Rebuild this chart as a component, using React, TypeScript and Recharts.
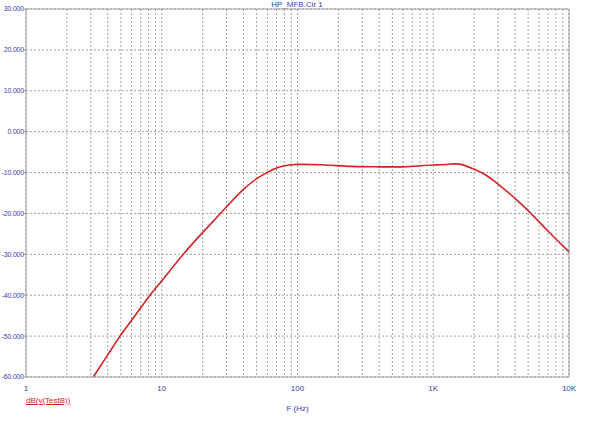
import React from 'react';
import { LineChart, Line, XAxis, YAxis, CartesianGrid, ReferenceLine, Legend } from 'recharts';

// frequency response (Hz / dB)
const freqs = [3.13, 4, 4.93, 6, 8.19, 10, 14.4, 20, 27, 33, 40, 50, 60, 70, 80, 90, 100, 150, 250, 400, 600, 800, 1000, 1300, 1600, 2000, 2350, 3000, 4000, 5000, 6000, 7000, 8500, 10000];
const gainDb = [-60, -54.6, -50, -46.1, -40, -36.5, -30, -24.7, -20, -16.9, -14.1, -11.5, -9.95, -8.9, -8.35, -8.1, -8.0, -8.1, -8.5, -8.6, -8.6, -8.35, -8.15, -7.95, -8.0, -9.2, -10.3, -12.8, -16.3, -19.3, -22.0, -24.3, -27.1, -29.4];

const decades = [1, 10, 100, 1000, 10000];
const decadeLabels = ['1', '10', '100', '1K', '10K'];
const yTicks = [-60, -50, -40, -30, -20, -10, 0, 10, 20, 30];

const TITLE = 'HP_MFB.Cir 1';
const SERIES_NAME = 'dB(v(TestB))';
const X_LABEL = 'F (Hz)';

const BLUE = '#3a3ab4';
const RED = '#d42222';
const GRAY = '#a0a0a0';
const FONT = '"Liberation Sans", Arial, sans-serif';

// all 1..9 x 10^n grid positions
const xTicks: number[] = [];
decades.slice(0, -1).forEach((d) => {
  for (let m = 1; m < 10; m++) xTicks.push(d * m);
});
xTicks.push(10000);

const data = freqs.map((f, i) => ({ f, db: gainDb[i] }));

const fmtX = (v: number) => {
  const i = decades.indexOf(v);
  return i >= 0 ? decadeLabels[i] : '';
};

const LegendLabel = () => (
  <div style={{ color: RED, fontSize: 8, fontFamily: FONT, textDecoration: 'underline', textAlign: 'left' }}>
    {SERIES_NAME}
  </div>
);

export default function App() {
  return (
    <div style={{ position: 'absolute', left: 0, top: 0, width: 600, height: 424, background: '#fff' }}>
      <div
        style={{
          position: 'absolute',
          top: 0,
          left: 0,
          width: 594,
          textAlign: 'center',
          color: BLUE,
          fontSize: 8,
          fontFamily: FONT,
          lineHeight: '9px',
        }}
      >
        {TITLE}
      </div>
      <LineChart width={600} height={424} data={data} margin={{ top: 9, right: 31, left: 0, bottom: 18 }}>
        <CartesianGrid stroke={GRAY} strokeDasharray="2 2" />
        <XAxis
          dataKey="f"
          type="number"
          scale="log"
          domain={[1, 10000]}
          ticks={xTicks}
          interval={0}
          tickFormatter={fmtX}
          allowDataOverflow
          height={20}
          stroke={GRAY}
          tickLine={false}
          tick={{ fill: BLUE, fontSize: 8, fontFamily: FONT }}
          label={{ value: X_LABEL, position: 'insideBottom', offset: -14, fill: BLUE, fontSize: 8, fontFamily: FONT }}
        />
        <YAxis
          type="number"
          domain={[-60, 30]}
          ticks={yTicks}
          interval={0}
          allowDataOverflow
          width={26}
          stroke={GRAY}
          tickSize={2}
          tickMargin={0}
          tickFormatter={(v: number) => v.toFixed(3)}
          tick={{ fill: BLUE, fontSize: 7, fontFamily: FONT, letterSpacing: -0.2 }}
        />
        <ReferenceLine y={30} stroke={GRAY} />
        <ReferenceLine x={10000} stroke={GRAY} />
        <Legend
          content={<LegendLabel />}
          wrapperStyle={{ position: 'absolute', left: 26, top: 396, width: 100 }}
        />
        <Line
          type="natural"
          dataKey="db"
          name={SERIES_NAME}
          stroke={RED}
          strokeWidth={1.6}
          dot={false}
          isAnimationActive={false}
        />
      </LineChart>
    </div>
  );
}
